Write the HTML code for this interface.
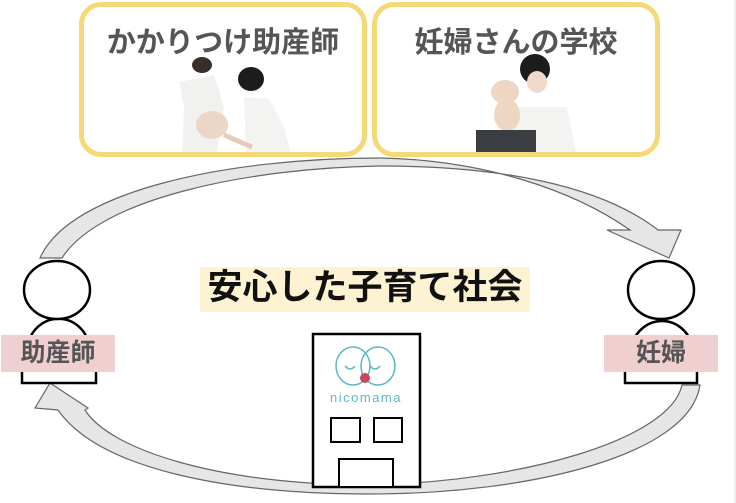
<!DOCTYPE html>
<html><head><meta charset="utf-8"><style>
html,body{margin:0;padding:0;background:#fff;}
body{width:736px;height:503px;position:relative;overflow:hidden;font-family:"Liberation Sans","Noto Sans CJK JP",sans-serif;}
.box{position:absolute;border:5px solid #f5d878;border-radius:22px;background:#fff;box-sizing:border-box;}
.bt{position:absolute;left:-10px;right:-10px;text-align:center;font-weight:bold;color:#555;font-size:29px;top:12px;}
.lbl{position:absolute;background:#efcfcf;color:#555;font-weight:bold;font-size:25px;text-align:center;line-height:37px;height:37px;}
</style></head><body>
<svg width="736" height="503" style="position:absolute;left:0;top:0">
 <line x1="735" y1="0" x2="735" y2="503" stroke="#ddd" stroke-width="1"/>
 <path d="M40,258 C70,190 230,158 380,158 C480,160 570,188 630,230 L607,230 L669,258 L681,230 L658,230 C600,185 500,166 380,166 C250,168 100,198 62,258 Z" fill="#e6e6e6" stroke="#666" stroke-width="1.2"/>
 <path d="M682,385 C670,440 520,482 370,485 C220,485 110,450 85,410 L88,408 L50,383 L35,408 L58,410 C100,470 230,494 370,494 C530,494 690,455 700,385 Z" fill="#e6e6e6" stroke="#666" stroke-width="1.2"/>
 <path d="M28,383 L28,345 A31,32 0 0 1 89,345 L89,383" fill="#fff" stroke="#000" stroke-width="2.5"/>
 <ellipse cx="57" cy="290" rx="33" ry="29" fill="#fff" stroke="#000" stroke-width="2.5"/>
 <rect x="22" y="365" width="74" height="18" fill="#fff" stroke="#000" stroke-width="2.5"/>
 <path d="M632,383 L632,345 A31,32 0 0 1 692,345 L692,383" fill="#fff" stroke="#000" stroke-width="2.5"/>
 <ellipse cx="661" cy="290" rx="33" ry="29" fill="#fff" stroke="#000" stroke-width="2.5"/>
 <rect x="625" y="365" width="72" height="18" fill="#fff" stroke="#000" stroke-width="2.5"/>
 <rect x="313" y="334" width="107" height="153" fill="#fff" stroke="#000" stroke-width="2.5"/>
 <rect x="331" y="418" width="29" height="24" fill="#fff" stroke="#000" stroke-width="2"/>
 <rect x="374" y="418" width="28" height="24" fill="#fff" stroke="#000" stroke-width="2"/>
 <rect x="339" y="459" width="54" height="28" fill="#fff" stroke="#000" stroke-width="2"/>
 <ellipse cx="353" cy="366" rx="17" ry="19" fill="none" stroke="#5bb8c4" stroke-width="1.5"/>
 <ellipse cx="378" cy="366" rx="17" ry="19" fill="none" stroke="#5bb8c4" stroke-width="1.5"/>
 <path d="M345,366 q5,6 10,0 M370,366 q5,6 10,0" fill="none" stroke="#5bb8c4" stroke-width="1.5"/>
 <circle cx="365" cy="378" r="5" fill="#c8465a"/>
 <text x="366" y="402" text-anchor="middle" font-family="Liberation Sans, sans-serif" font-size="13" fill="#5bb8c4" letter-spacing="1.5">nicomama</text>
</svg>
<div class="box" style="left:79px;top:2px;width:288px;height:155px;">
 <div class="bt">かかりつけ助産師</div>
 <svg width="278" height="145" style="position:absolute;left:0;top:0">
  <ellipse cx="118" cy="58" rx="10" ry="8" fill="#3a2e28"/>
  <path d="M95,75 L130,68 L140,100 L132,150 L98,150 L100,100 Z" fill="#f1f1ef"/>
  <ellipse cx="128" cy="118" rx="16" ry="14" fill="#ecd6c6"/>
  <ellipse cx="167" cy="72" rx="13" ry="12" fill="#1c1c1c"/>
  <path d="M160,90 L185,92 L200,120 L208,150 L162,150 Z" fill="#f3f3f1"/>
  <path d="M140,128 L168,140" stroke="#e4cbbb" stroke-width="5"/>
 </svg>
</div>
<div class="box" style="left:372px;top:2px;width:288px;height:155px;">
 <div class="bt">妊婦さんの学校</div>
 <svg width="278" height="145" style="position:absolute;left:0;top:0">
  <path d="M138,100 L190,100 L200,150 L135,150 Z" fill="#f3f3f1"/>
  <ellipse cx="158" cy="62" rx="15" ry="15" fill="#1c1c1c"/>
  <ellipse cx="160" cy="75" rx="10" ry="11" fill="#f0dacb"/>
  <ellipse cx="128" cy="85" rx="14" ry="12" fill="#efd6c2"/>
  <ellipse cx="130" cy="108" rx="13" ry="16" fill="#efd6c2"/>
  <rect x="99" y="123" width="60" height="27" fill="#3a3d41"/>
 </svg>
</div>
<div style="position:absolute;left:200px;top:267px;width:330px;height:45px;background:#fdf3d3;"></div>
<div style="position:absolute;left:195px;top:265px;width:340px;text-align:center;font-size:35px;font-weight:bold;color:#111;line-height:46px;">安心した子育て社会</div>
<div class="lbl" style="left:1px;top:335px;width:114px;">助産師</div>
<div class="lbl" style="left:604px;top:335px;width:114px;">妊婦</div>
</body></html>
